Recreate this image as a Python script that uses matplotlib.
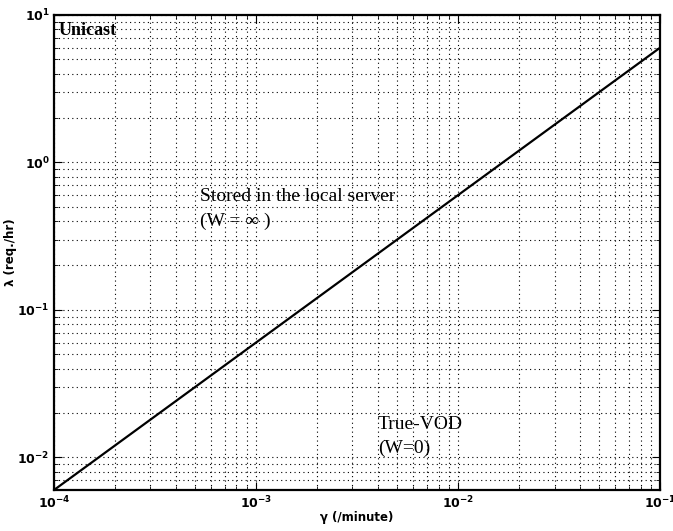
import numpy as np
import matplotlib
matplotlib.use("Agg")
import matplotlib.pyplot as plt

# unicast threshold line: lambda = 60 * gamma
gamma = [1e-4, 1e-3, 1e-2, 1e-1]
lam = [6e-3, 6e-2, 6e-1, 6.0]

fig = plt.figure(figsize=(6.73, 5.31), dpi=100)
ax = fig.add_axes([0.080, 0.077, 0.901, 0.895])

ax.plot(gamma, lam, color="black", linewidth=1.6)
ax.set_xscale("log")
ax.set_yscale("log")
ax.set_xlim(1e-4, 1e-1)
ax.set_ylim(6e-3, 1e1)

ax.grid(True, which="both", linestyle=(0, (1, 3)), color="black", linewidth=0.8)
ax.tick_params(which="both", direction="in", top=True, right=True)
ax.tick_params(which="major", length=6, labelsize=9, pad=3)
ax.tick_params(which="minor", length=3)
for lbl in ax.get_xticklabels() + ax.get_yticklabels():
    lbl.set_fontweight("bold")
for s in ax.spines.values():
    s.set_linewidth(1.6)

ax.set_xlabel("γ (/minute)", fontsize=8.5, fontweight="bold", labelpad=0)
ax.set_ylabel("λ (req./hr)", fontsize=8.5, fontweight="bold", labelpad=0)

serif = "Liberation Serif"
ax.text(1.05e-4, 7.8, "Unicast", family=serif, fontsize=13, fontweight="bold", va="center")
ax.text(5.3e-4, 0.586, "Stored in the local server", family=serif, fontsize=14, va="center")
ax.text(5.3e-4, 0.40, "(W = ∞ )", family=serif, fontsize=14, va="center")
ax.text(4e-3, 0.0168, "True-VOD", family=serif, fontsize=14, va="center")
ax.text(4e-3, 0.0115, "(W=0)", family=serif, fontsize=14, va="center")

fig.savefig("out.png", dpi=100)
